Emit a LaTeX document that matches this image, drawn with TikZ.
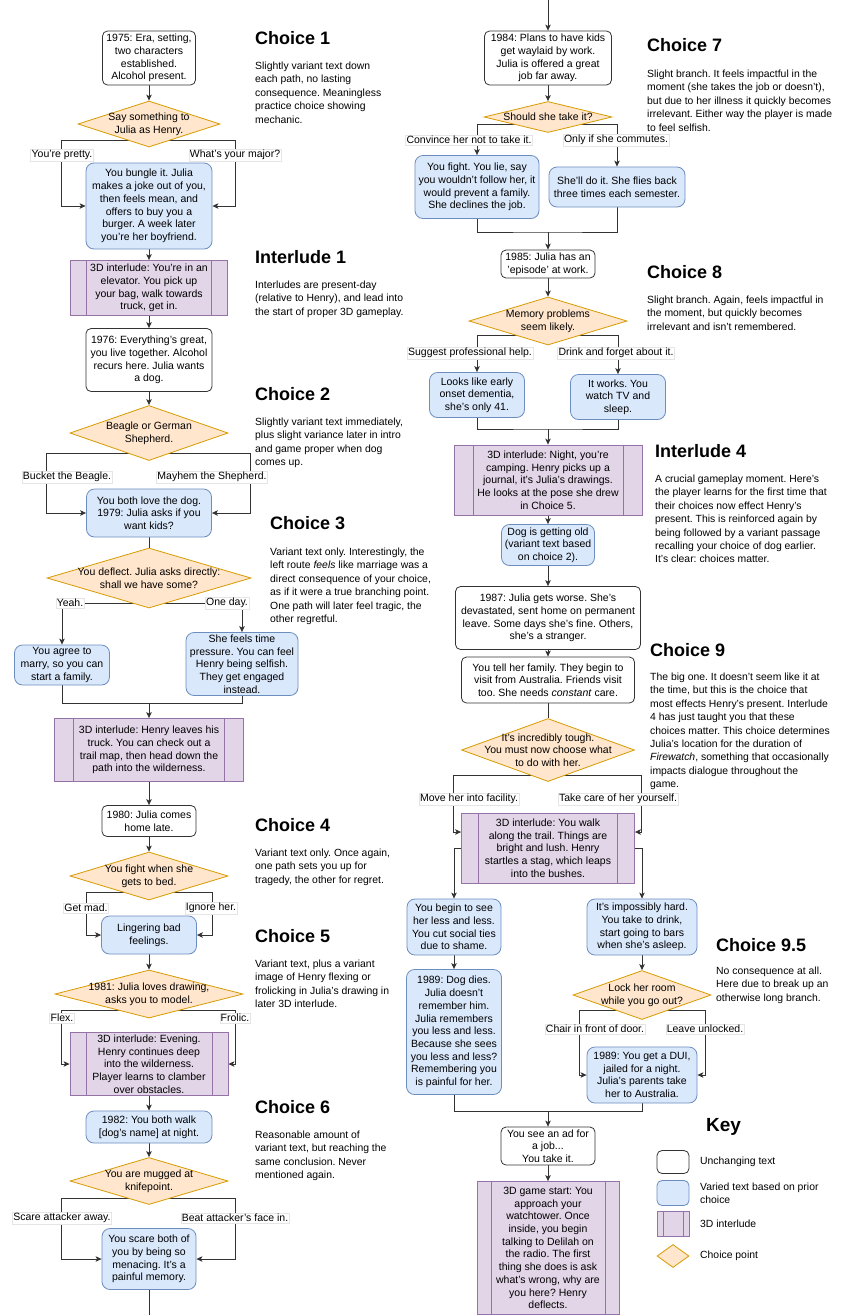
\documentclass[tikz,border=0pt]{standalone}
\usepackage{fontspec}
\setmainfont{Liberation Sans}
\usetikzlibrary{arrows.meta,positioning,shapes.geometric,backgrounds}

\definecolor{edgecol}{HTML}{333333}
\definecolor{fixedborder}{HTML}{333333}
\definecolor{variedfill}{HTML}{DAE8FC}
\definecolor{variedborder}{HTML}{6C8EBF}
\definecolor{ilfill}{HTML}{E1D5E7}
\definecolor{ilborder}{HTML}{9673A6}
\definecolor{chfill}{HTML}{FFE6CC}
\definecolor{chborder}{HTML}{D79B00}

\begin{document}
\frenchspacing
\begin{tikzpicture}[
  x=1pt, y=-1pt,
  wh/.style 2 args={minimum width=#1pt, minimum height=#2pt},
  fixedbox/.style={draw=fixedborder, line width=0.8pt, fill=white, rounded corners=5pt,
              align=center, inner sep=1pt, font=\fontsize{10.5}{12.7}\selectfont},
  variedbox/.style={fixedbox, draw=variedborder, fill=variedfill, rounded corners=8pt},
  interlude/.style={fixedbox, draw=ilborder, fill=ilfill, rounded corners=0pt,
              path picture={\draw[ilborder, line width=0.8pt]
                ([xshift=#1]path picture bounding box.north west) -- ([xshift=#1]path picture bounding box.south west)
                ([xshift=-#1]path picture bounding box.north east) -- ([xshift=-#1]path picture bounding box.south east);}},
  interlude/.default=16pt,
  choice/.style 2 args={diamond, draw=chborder, line width=0.8pt, fill=chfill, inner sep=0pt,
              minimum width=#1pt, minimum height=#2pt},
  ctext/.style={anchor=center, align=center, inner sep=0pt, font=\fontsize{10.5}{12.7}\selectfont},
  lbl/.style={fill=white, draw=black!10, line width=0.4pt, inner sep=1pt, font=\fontsize{10.5}{12}\selectfont},
  blurbhead/.style={anchor=west, inner sep=0pt, font=\fontsize{18}{20}\selectfont\bfseries},
  blurb/.style={align=left, inner sep=0pt, font=\fontsize{10.4}{13.4}\selectfont},
  keytext/.style={anchor=west, align=left, inner sep=0pt, font=\fontsize{10.4}{13}\selectfont},
  conn/.style={edgecol, line width=0.9pt},
  arr/.style={conn, -{Stealth[length=6pt, width=5.5pt, inset=1.5pt]}}
]
\useasboundingbox (0,0) rectangle (852,1315);

% left column
\node[fixedbox, wh={93}{54}] (n1) at (149,58) {1975: Era, setting,\\two characters\\established.\\Alcohol present.};
\node[choice={142}{46}, label={[ctext]center:{Say something to\\Julia as Henry.}}] (d1) at (149,124) {};
\node[variedbox, wh={126}{86}] (n2) at (149,206) {You bungle it. Julia\\makes a joke out of you,\\then feels mean, and\\offers to buy you a\\burger. A week later\\you're her boyfriend.};
\node[interlude=16pt, wh={157}{55}] (i1) at (149,288) {3D interlude: You're in an\\elevator. You pick up\\your bag, walk towards\\truck, get in.};
\node[fixedbox, wh={126}{63}] (n3) at (149,360) {1976: Everything's great,\\you live together. Alcohol\\recurs here. Julia wants\\a dog.};
\node[choice={158}{55}, label={[ctext]center:{Beagle or German\\Shepherd.}}] (d2) at (149,433) {};
\node[variedbox, wh={125}{48}] (n4) at (149,513) {You both love the dog.\\1979: Julia asks if you\\want kids?};
\node[choice={204}{60}, label={[ctext]center:{You deflect. Julia asks directly:\\shall we have some?}}] (d3) at (149,578) {};
\node[variedbox, wh={95}{40}] (n5) at (62,665) {You agree to\\marry, so you can\\start a family.};
\node[variedbox, wh={112}{63}] (n6) at (242,664) {She feels time\\pressure. You can feel\\Henry being selfish.\\They get engaged\\instead.};
\node[interlude=19pt, wh={189}{63}] (i2) at (149,750) {3D interlude: Henry leaves his\\truck. You can check out a\\trail map, then head down the\\path into the wilderness.};
\node[fixedbox, wh={94}{31}] (n7) at (149,821) {1980: Julia comes\\home late.};
\node[choice={158}{48}, label={[ctext]center:{You fight when she\\gets to bed.}}] (d4) at (149,876) {};
\node[variedbox, wh={95}{38}] (n8) at (149,935) {Lingering bad\\feelings.};
\node[choice={188}{48}, label={[ctext]center:{1981: Julia loves drawing,\\asks you to model.}}] (d5) at (149,994) {};
\node[interlude=16pt, wh={158}{63}] (i3) at (149,1064) {3D interlude: Evening.\\Henry continues deep\\into the wilderness.\\Player learns to clamber\\over obstacles.};
\node[variedbox, wh={126}{32}] (n9) at (149,1127) {1982: You both walk\\{[}dog's name{]} at night.};
\node[choice={158}{47}, label={[ctext]center:{You are mugged at\\knifepoint.}}] (d6) at (149,1181) {};
\node[variedbox, wh={94}{61}] (n10) at (149,1259) {You scare both of\\you by being so\\menacing. It's a\\painful memory.};
\coordinate (cont1) at (149,1315);

% right column
\coordinate (cont2) at (548,0);
\node[fixedbox, wh={127}{54}] (n11) at (548,58) {1984: Plans to have kids\\get waylaid by work.\\Julia is offered a great\\job far away.};
\node[choice={128}{31}, label={[ctext]center:{Should she take it?}}] (d7) at (548,117) {};
\node[variedbox, wh={124}{63}] (n12) at (477,187) {You fight. You lie, say\\you wouldn't follow her, it\\would prevent a family.\\She declines the job.};
\node[variedbox, wh={136}{40}] (n13) at (617,187) {She'll do it. She flies back\\three times each semester.};
\node[fixedbox, wh={94}{28}] (n14) at (548,264) {1985: Julia has an\\'episode' at work.};
\node[choice={158}{48}, label={[ctext]center:{Memory problems\\seem likely.}}] (d8) at (548,321) {};
\node[variedbox, wh={95}{45}] (n15) at (477,395) {Looks like early\\onset dementia,\\she's only 41.};
\node[variedbox, wh={95}{45}] (n16) at (618,397) {It works. You\\watch TV and\\sleep.};
\node[interlude=19pt, wh={188}{70}] (i4) at (548,480) {3D interlude: Night, you're\\camping. Henry picks up a\\journal, it's Julia's drawings.\\He looks at the pose she drew\\in Choice 5.};
\node[variedbox, wh={93}{41}] (n17) at (548,545) {Dog is getting old\\(variant text based\\on choice 2).};
\node[fixedbox, wh={185}{63}] (n18) at (548,618) {1987: Julia gets worse. She's\\devastated, sent home on permanent\\leave. Some days she's fine. Others,\\she's a stranger.};
\node[fixedbox, wh={173}{46}] (n19) at (548,680) {You tell her family. They begin to\\visit from Australia. Friends visit\\too. She needs \textit{constant} care.};
\node[choice={173}{63}, label={[ctext]center:{It's incredibly tough.\\You must now choose what\\to do with her.}}] (d9) at (548,750) {};
\node[interlude=17pt, wh={173}{70}] (i5) at (548,848) {3D interlude: You walk\\along the trail. Things are\\bright and lush. Henry\\startles a stag, which leaps\\into the bushes.};
\node[variedbox, wh={94}{56}] (n20) at (454,927) {You begin to see\\her less and less.\\You cut social ties\\due to shame.};
\node[variedbox, wh={110}{56}] (n21) at (642,927) {It's impossibly hard.\\You take to drink,\\start going to bars\\when she's asleep.};
\node[variedbox, wh={95}{125}] (n22) at (454,1032) {1989: Dog dies.\\Julia doesn't\\remember him.\\Julia remembers\\you less and less.\\Because she sees\\you less and less?\\Remembering you\\is painful for her.};
\node[choice={138}{49}, label={[ctext]center:{Lock her room\\while you go out?}}] (d95) at (642,995) {};
\node[variedbox, wh={110}{56}] (n23) at (642,1075) {1989: You get a DUI,\\jailed for a night.\\Julia's parents take\\her to Australia.};
\node[fixedbox, wh={94}{38}] (n24) at (548,1146) {You see an ad for\\a job...\\You take it.};
\node[interlude=14pt, wh={142}{133}] (i6) at (548,1248) {3D game start: You\\approach your\\watchtower. Once\\inside, you begin\\talking to Delilah on\\the radio. The first\\thing she does is ask\\what's wrong, why are\\you here? Henry\\deflects.};

% branch labels
\node[lbl] (l1a) at (62,155) {You're pretty.};
\node[lbl] (l1b) at (235,155) {What's your major?};
\node[lbl] (l2a) at (67,477) {Bucket the Beagle.};
\node[lbl] (l2b) at (212,477) {Mayhem the Shepherd.};
\node[lbl] (l3a) at (70,603) {Yeah.};
\node[lbl] (l3b) at (227,603) {One day.};
\node[lbl] (l4a) at (86,908) {Get mad.};
\node[lbl] (l4b) at (211,908) {Ignore her.};
\node[lbl] (l5a) at (62,1018) {Flex.};
\node[lbl] (l5b) at (235,1018) {Frolic.};
\node[lbl] (l6a) at (62,1218) {Scare attacker away.};
\node[lbl] (l6b) at (235,1218) {Beat attacker's face in.};
\node[lbl] (l7a) at (469,140) {Convince her not to take it.};
\node[lbl] (l7b) at (616,140) {Only if she commutes.};
\node[lbl] (l8a) at (470,353) {Suggest professional help.};
\node[lbl] (l8b) at (616,353) {Drink and forget about it.};
\node[lbl] (l9a) at (469,799) {Move her into facility.};
\node[lbl] (l9b) at (618,799) {Take care of her yourself.};
\node[lbl] (l95a) at (595,1029) {Chair in front of door.};
\node[lbl] (l95b) at (705,1029) {Leave unlocked.};

% notes beside the flow
\node[blurbhead] (c1h) at (255,38) {Choice 1};
\node[blurb, below right=17pt and 0pt of c1h.south west] (c1b) {Slightly variant text down\\each path, no lasting\\consequence. Meaningless\\practice choice showing\\mechanic.};
\node[blurbhead] (il1h) at (255,257) {Interlude 1};
\node[blurb, below right=17pt and 0pt of il1h.south west] (il1b) {Interludes are present-day\\(relative to Henry), and lead into\\the start of proper 3D gameplay.};
\node[blurbhead] (c2h) at (255,394) {Choice 2};
\node[blurb, below right=17pt and 0pt of c2h.south west] (c2b) {Slightly variant text immediately,\\plus slight variance later in intro\\and game proper when dog\\comes up.};
\node[blurbhead] (c3h) at (270,523) {Choice 3};
\node[blurb, below right=18pt and 0pt of c3h.south west] (c3b) {Variant text only. Interestingly, the\\left route \textit{feels} like marriage was a\\direct consequence of your choice,\\as if it were a true branching point.\\One path will later feel tragic, the\\other regretful.};
\node[blurbhead] (c4h) at (255,825) {Choice 4};
\node[blurb, below right=17pt and 0pt of c4h.south west] (c4b) {Variant text only. Once again,\\one path sets you up for\\tragedy, the other for regret.};
\node[blurbhead] (c5h) at (255,936) {Choice 5};
\node[blurb, below right=17pt and 0pt of c5h.south west] (c5b) {Variant text, plus a variant\\image of Henry flexing or\\frolicking in Julia's drawing in\\later 3D interlude.};
\node[blurbhead] (c6h) at (255,1107) {Choice 6};
\node[blurb, below right=17pt and 0pt of c6h.south west] (c6b) {Reasonable amount of\\variant text, but reaching the\\same conclusion. Never\\mentioned again.};
\node[blurbhead] (c7h) at (647,45) {Choice 7};
\node[blurb, below right=18pt and 0pt of c7h.south west] (c7b) {Slight branch. It feels impactful in the\\moment (she takes the job or doesn't),\\but due to her illness it quickly becomes\\irrelevant. Either way the player is made\\to feel selfish.};
\node[blurbhead] (c8h) at (647,272) {Choice 8};
\node[blurb, below right=17pt and 0pt of c8h.south west] (c8b) {Slight branch. Again, feels impactful in\\the moment, but quickly becomes\\irrelevant and isn't remembered.};
\node[blurbhead] (il4h) at (655,451) {Interlude 4};
\node[blurb, below right=17pt and 0pt of il4h.south west] (il4b) {A crucial gameplay moment. Here's\\the player learns for the first time that\\their choices now effect Henry's\\present. This is reinforced again by\\being followed by a variant passage\\recalling your choice of dog earlier.\\It's clear: choices matter.};
\node[blurbhead] (c9h) at (650,650) {Choice 9};
\node[blurb, below right=16pt and 0pt of c9h.south west] (c9b) {The big one. It doesn't seem like it at\\the time, but this is the choice that\\most effects Henry's present. Interlude\\4 has just taught you that these\\choices matter. This choice determines\\Julia's location for the duration of\\\textit{Firewatch}, something that occasionally\\impacts dialogue throughout the\\game.};
\node[blurbhead] (c95h) at (716,945) {Choice 9.5};
\node[blurb, below right=15pt and 0pt of c95h.south west] (c95b) {No consequence at all.\\Here due to break up an\\otherwise long branch.};

% key
\node[blurbhead, font=\fontsize{19}{21}\selectfont\bfseries] (keyh) at (706,1127) {Key};
\node[fixedbox, wh={32}{23}] (k1) at (673,1162) {};
\node[variedbox, rounded corners=5pt, wh={32}{25}] (k2) at (673,1193) {};
\node[interlude=6pt, wh={32}{25}] (k3) at (673,1224) {};
\node[choice={32}{23}] (k4) at (673,1256) {};
\node[keytext] (k1t) at (700,1162) {Unchanging text};
\node[keytext] (k2t) at (700,1193) {Varied text based on prior\\choice};
\node[keytext] (k3t) at (700,1224) {3D interlude};
\node[keytext] (k4t) at (700,1256) {Choice point};

\begin{scope}[on background layer]
\fill[white] (0,0) rectangle (852,1315);
% left column connectors
\draw[arr] (n1) -- (d1);
\draw[arr] ([yshift=-16pt]d1.center) -| ([xshift=-24pt]n2.west) -- (n2.west);
\draw[arr] ([yshift=-16pt]d1.center) -| ([xshift=23pt]n2.east) -- (n2.east);
\draw[arr] (n2) -- (i1);
\draw[arr] (i1) -- (n3);
\draw[arr] (n3) -- (d2);
\draw[arr] ([yshift=-20pt]d2.center) -| ([xshift=-40pt]n4.west) -- (n4.west);
\draw[arr] ([yshift=-20pt]d2.center) -| ([xshift=39pt]n4.east) -- (n4.east);
\draw[conn] (n4) -- (d3);
\draw[arr] ([yshift=-25pt]d3.center) -| (n5.north);
\draw[arr] ([yshift=-25pt]d3.center) -| (n6.north);
\coordinate (j3) at (149,703);
\draw[conn] (n5.south) |- (j3) -| (n6.south);
\draw[arr] (j3) -- (i2);
\draw[arr] (i2) -- (n7);
\draw[arr] (n7) -- (d4);
\draw[arr] ([yshift=-16pt]d4.center) -| ([xshift=-15pt]n8.west) -- (n8.west);
\draw[arr] ([yshift=-16pt]d4.center) -| ([xshift=16pt]n8.east) -- (n8.east);
\draw[arr] (n8) -- (d5);
\draw[arr] ([yshift=-16pt]d5.center) -| ([xshift=-8pt]i3.west) -- (i3.west);
\draw[arr] ([yshift=-16pt]d5.center) -| ([xshift=7pt]i3.east) -- (i3.east);
\draw[arr] (i3) -- (n9);
\draw[arr] (n9) -- (d6);
\draw[arr] ([yshift=-17pt]d6.center) -| ([xshift=-40pt]n10.west) -- (n10.west);
\draw[arr] ([yshift=-17pt]d6.center) -| ([xshift=39pt]n10.east) -- (n10.east);
\draw[conn] (n10) -- (cont1);
% right column connectors
\draw[arr] (cont2) -- (n11);
\draw[arr] (n11) -- (d7);
\draw[arr] ([yshift=-7pt]d7.center) -| (n12.north);
\draw[arr] ([yshift=-7pt]d7.center) -| (n13.north);
\coordinate (j7) at (548,232);
\draw[conn] (n12.south) |- (j7) -| (n13.south);
\draw[arr] (j7) -- (n14);
\draw[arr] (n14) -- (d8);
\draw[arr] ([yshift=-14pt]d8.center) -| (n15.north);
\draw[arr] ([yshift=-14pt]d8.center) -| (n16.north);
\coordinate (j8) at (548,429);
\draw[conn] (n15.south) |- (j8) -| (n16.south);
\draw[arr] (j8) -- (i4);
\draw[arr] (i4) -- (n17);
\draw[arr] (n17) -- (n18);
\draw[arr] (n18) -- (n19);
\draw[conn] (n19) -- (d9);
\draw[arr] ([yshift=-25pt]d9.center) -| ([xshift=-8pt,yshift=16pt]i5.west) -- ([yshift=16pt]i5.west);
\draw[arr] ([yshift=-25pt]d9.center) -| ([xshift=7pt,yshift=16pt]i5.east) -- ([yshift=16pt]i5.east);
\draw[arr] (i5.west) -| (n20.north);
\draw[arr] (i5.east) -| (n21.north);
\draw[arr] (n20) -- (n22);
\draw[arr] (n21) -- (d95);
\draw[arr] ([yshift=-15pt]d95.center) -| ([xshift=-7pt]n23.west) -- (n23.west);
\draw[arr] ([yshift=-15pt]d95.center) -| ([xshift=8pt]n23.east) -- (n23.east);
\coordinate (j9) at (548,1111);
\draw[conn] (n22.south) |- (j9) -| (n23.south);
\draw[arr] (j9) -- (n24);
\draw[arr] (n24) -- (i6);
\end{scope}
\end{tikzpicture}
\end{document}
